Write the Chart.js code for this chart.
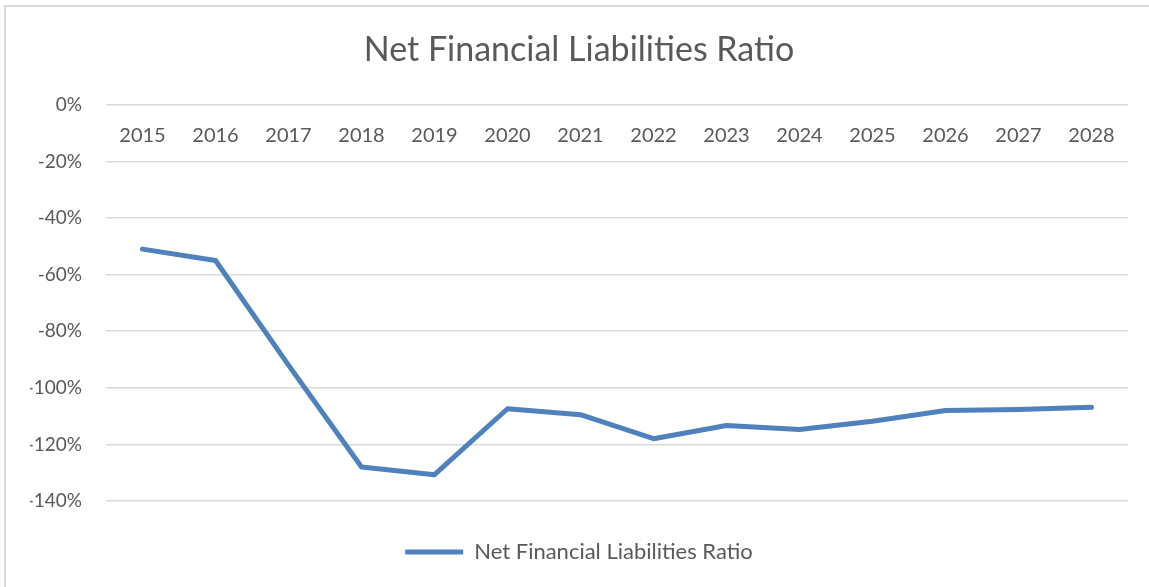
<!DOCTYPE html>
<html>
<head>
<meta charset="utf-8">
<script src="https://cdn.jsdelivr.net/npm/chart.js@4/dist/chart.umd.min.js"></script>
<style>
    html, body { margin: 0; padding: 0; background: #fff; overflow: hidden; }
    #frame {
        position: absolute; left: 4px; top: 5px;
        width: 1160px; height: 600px;
        border: 2px solid #d9d9d9;
        box-sizing: border-box;
    }
    #wrap { position: absolute; left: 0; top: 0; width: 1149px; height: 587px; }
</style>
</head>
<body>
<div id="frame"></div>
<div id="wrap"><canvas id="ratio"></canvas></div>
<script>
    const years = ['2015', '2016', '2017', '2018', '2019', '2020', '2021',
                   '2022', '2023', '2024', '2025', '2026', '2027', '2028'];

    // values in percent
    const ratio = [-51, -55, -92, -128, -130.7, -107.4, -109.5,
                   -118, -113.3, -114.7, -111.8, -108, -107.7, -106.9];

    const yTicks = [0, -20, -40, -60, -80, -100, -120, -140];

    const grey = '#595959';

    new Chart(
        document.getElementById('ratio'),
        {
            type: 'line',
            data: {
                labels: years,
                datasets: [
                    {
                        label: 'Net Financial Liabilities Ratio',
                        data: ratio,
                        borderColor: '#4f81bd',
                        backgroundColor: '#4f81bd',
                        borderWidth: 5,
                        borderCapStyle: 'round',
                        borderJoinStyle: 'round',
                        pointRadius: 0,
                        tension: 0
                    }
                ]
            },
            options: {
                responsive: true,
                maintainAspectRatio: false,
                animation: false,
                layout: {
                    padding: { left: 30, right: 21, top: 0, bottom: 14 }
                },
                scales: {
                    x: {
                        // category labels sit just under the 0% line, like Excel
                        position: { y: 0 },
                        offset: true,
                        grid: { display: false, drawTicks: false, offset: true },
                        border: { display: false },
                        ticks: {
                            color: grey,
                            padding: 19,
                            maxRotation: 0,
                            font: { family: 'Lato', size: 20 }
                        }
                    },
                    y: {
                        min: -140,
                        max: 0,
                        afterBuildTicks: axis => {
                            axis.ticks = yTicks.map(v => ({ value: v }));
                        },
                        afterFit: axis => { axis.width = 76; },
                        grid: { color: '#d9d9d9', lineWidth: 1.5, drawTicks: false },
                        border: { display: false },
                        ticks: {
                            color: grey,
                            padding: 24,
                            font: { family: 'Lato', size: 19 },
                            callback: v => v + '%'
                        }
                    }
                },
                plugins: {
                    title: {
                        display: true,
                        text: 'Net Financial Liabilities Ratio',
                        color: grey,
                        font: { family: 'Lato', size: 34, weight: 'normal' },
                        padding: { top: 30, bottom: 34 }
                    },
                    legend: {
                        position: 'bottom',
                        labels: {
                            color: grey,
                            usePointStyle: true,
                            pointStyle: 'line',
                            pointStyleWidth: 58,
                            padding: 40,
                            font: { family: 'Lato', size: 22 }
                        }
                    },
                    tooltip: { enabled: false }
                }
            }
        }
    );
</script>
</body>
</html>
